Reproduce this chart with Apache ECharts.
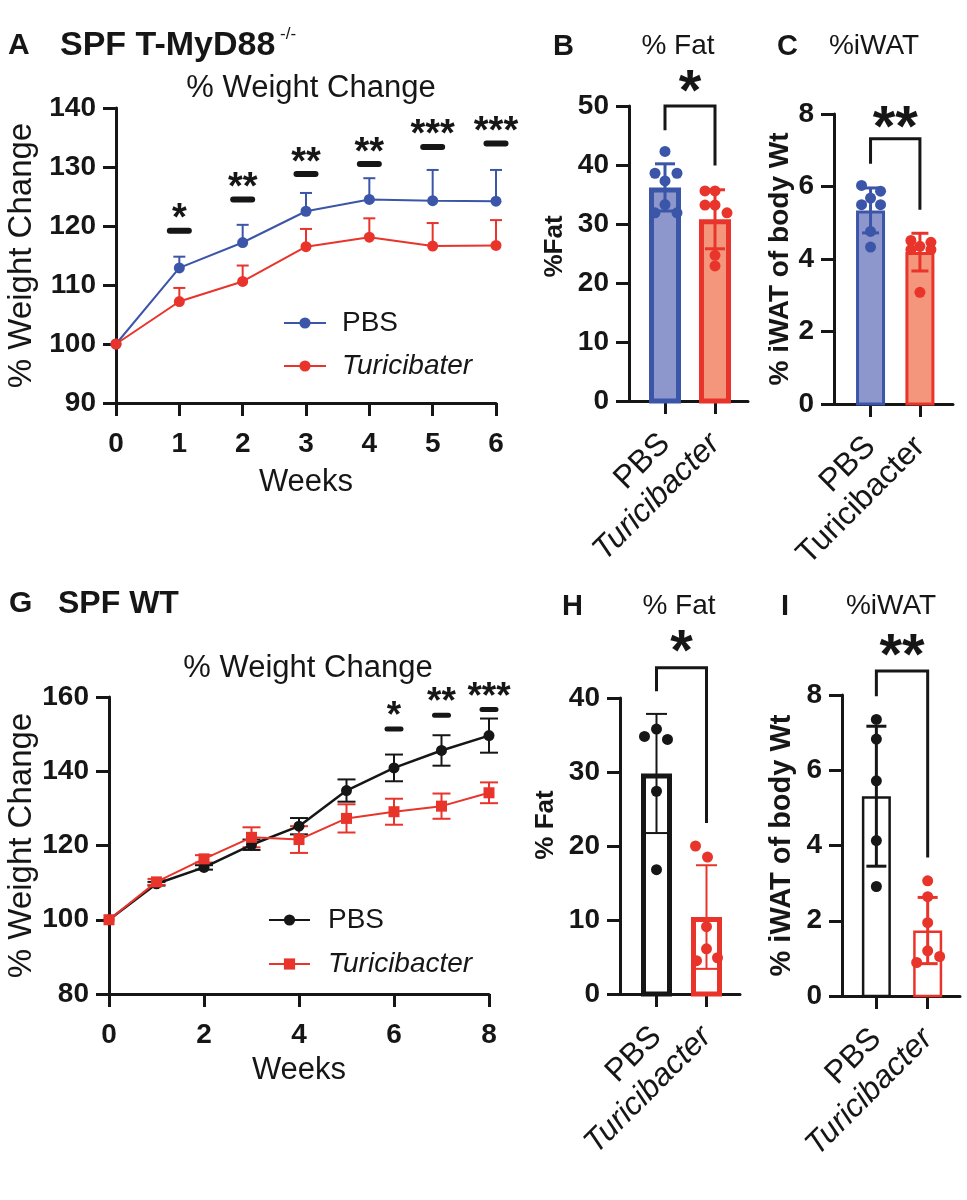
<html>
<head>
<meta charset="utf-8">
<script src="https://cdn.jsdelivr.net/npm/echarts@6/dist/echarts.min.js"></script>
<style>
html, body { margin: 0; padding: 0; background: #fff; }
#main { width: 967px; height: 1200px; }
</style>
</head>
<body>
<div id="main"></div>
<script>

// ---------- data: panel A (SPF T-MyD88-/-) ----------
var weeksA = [0, 1, 2, 3, 4, 5, 6];
var pbsA = [100, 112.9, 117.2, 122.5, 124.5, 124.3, 124.2];
var pbsA_sd = [0, 1.9, 3.0, 3.1, 3.6, 5.2, 5.3];
var turA = [100, 107.2, 110.6, 116.5, 118.1, 116.6, 116.7];
var turA_sd = [0, 2.3, 2.7, 3.0, 3.2, 3.9, 4.3];
var sigA_weeks = [1, 2, 3, 4, 5, 6];
var sigA_level = [119.2, 124.5, 128.8, 130.5, 133.4, 134.0];
var sigA_stars = ['*', '**', '**', '**', '***', '***'];

// ---------- data: panel G (SPF WT) ----------
var weeksG = [0, 1, 2, 3, 4, 5, 6, 7, 8];
var pbsG = [100, 109.7, 114.1, 120.2, 125.2, 134.8, 140.9, 145.6, 149.6];
var pbsG_sd = [0, 0.5, 0.6, 1.4, 2.2, 3.0, 3.6, 4.1, 4.6];
var turG = [100, 110.2, 116.4, 122.2, 121.6, 127.3, 129.1, 130.6, 134.2];
var turG_sd = [0, 0.8, 1.0, 2.7, 3.6, 3.8, 3.5, 3.4, 2.8];
var sigG_weeks = [6, 7, 8];
var sigG_level = [151.4, 155.1, 156.6];
var sigG_stars = ['*', '**', '***'];

// ---------- data: bar panels ----------
var groups = ['PBS', 'Turicibacter'];

var fatB_pbs = [42.3, 38.6, 38.6, 37.3, 33.3, 31.9, 31.9];
var fatB_tur = [35.6, 35.6, 33.2, 33.2, 31.9, 24.7, 22.9];
var fatB_mean = [36.2, 30.8];
var fatB_sd = [4.0, 5.0];
var fatB_bracket = [50, 45.9, 39.9];   // top, left leg end, right leg end

var iwatC_pbs = [6.03, 5.87, 5.68, 5.50, 5.50, 4.76, 4.33];
var iwatC_tur = [4.51, 4.46, 4.35, 4.26, 4.26, 3.08];
var iwatC_mean = [5.34, 4.19];
var iwatC_sd = [0.62, 0.52];
var iwatC_bracket = [7.32, 6.63, 5.36];

var fatH_pbs = [34.8, 35.8, 34.4, 27.4, 16.8];
var fatH_tur = [20.0, 18.5, 9.1, 6.1, 4.5, 4.9];
var fatH_mean = [29.8, 10.4];
var fatH_sd = [8.05, 7.0];
var fatH_bracket = [44.1, 40.9, 23.1];

var iwatI_pbs = [7.35, 6.83, 5.72, 4.13, 2.91];
var iwatI_tur = [3.06, 2.64, 1.95, 1.20, 1.05, 0.89];
var iwatI_mean = [5.31, 1.74];
var iwatI_sd = [1.86, 0.88];
var iwatI_bracket = [8.64, 7.97, 3.68];

// horizontal scatter of the dots (px), layout only
var jitB = [[0, -10, 12, 0, 0, -10, 12], [-10, 0, -10, 0, 12, 0, 0]];
var jitC = [[-9, 10, 0, -9, 10, 0, 0], [-9, 11, 0, -9, 11, 0]];
var jitH = [[-12, 0, 11, 0, 0], [-11, 1, 0, 0, -10, 11]];
var jitI = [[0, 0, 0, 0, 0], [0, 0, 0, 0, 12, -11]];

// ---------- styles ----------
var FONT = 'Liberation Sans, Arial, Helvetica, sans-serif';
var INK = '#161616';
var BLUE = '#3b55a8';
var BLUE_FILL = '#8e97cc';
var RED = '#e8342a';
var RED_FILL = '#f4967b';

function pairs(xs, ys) {
    return xs.map(function (x, i) { return [x, ys[i]]; });
}

function lineXAxis(grid, max, interval, gap) {
    return {
        type: 'value', gridIndex: grid, min: 0, max: max, interval: interval,
        name: 'Weeks', nameLocation: 'middle', nameGap: gap,
        nameTextStyle: { fontFamily: FONT, fontSize: 31, color: INK },
        axisLine: { onZero: false, lineStyle: { color: INK, width: 3 } },
        axisTick: { length: 13, lineStyle: { color: INK, width: 3 } },
        axisLabel: { margin: 27, fontFamily: FONT, fontSize: 28, fontWeight: 'bold', color: INK },
        splitLine: { show: false }
    };
}

function valueYAxis(grid, min, max, interval, name, gap, bold, size, pad) {
    return {
        type: 'value', gridIndex: grid, min: min, max: max, interval: interval,
        name: name, nameLocation: 'middle', nameGap: gap,
        nameTextStyle: {
            fontFamily: FONT, fontSize: size, color: INK,
            fontWeight: bold ? 'bold' : 'normal',
            padding: pad || 0
        },
        axisLine: { show: true, onZero: false, lineStyle: { color: INK, width: 3 } },
        axisTick: { show: true, length: 13, lineStyle: { color: INK, width: 3 } },
        axisLabel: { margin: 20, fontFamily: FONT, fontSize: 28, fontWeight: 'bold', color: INK },
        splitLine: { show: false }
    };
}

function barXAxis(grid, min, max, italic) {
    return {
        type: 'value', gridIndex: grid, min: min, max: max,
        axisLine: { onZero: false, lineStyle: { color: INK, width: 3 } },
        axisTick: { customValues: [0, 1], length: 13, lineStyle: { color: INK, width: 3 } },
        axisLabel: {
            customValues: [0, 1], rotate: 45, margin: 38,
            formatter: function (v) {
                return v === 0 ? '{n|' + groups[0] + '}' : (italic ? '{i|' : '{n|') + groups[1] + '}';
            },
            rich: {
                n: { fontFamily: FONT, fontSize: 32, color: INK },
                i: { fontFamily: FONT, fontSize: 32, color: INK, fontStyle: 'italic' }
            }
        },
        splitLine: { show: false }
    };
}

function errorSeries(axis, xs, means, sds, color, capW, both) {
    return {
        type: 'custom', xAxisIndex: axis, yAxisIndex: axis, silent: true, z: 3,
        data: xs.map(function (x, i) { return [x, means[i], sds[i]]; }),
        renderItem: function (params, api) {
            var x = api.value(0), m = api.value(1), s = api.value(2);
            if (!s) { return null; }
            var hi = api.coord([x, m + s]);
            var lo = api.coord([x, both ? m - s : m]);
            var st = { stroke: color, lineWidth: 2 };
            var kids = [
                { type: 'line', shape: { x1: hi[0], y1: hi[1], x2: lo[0], y2: lo[1] }, style: st },
                { type: 'line', shape: { x1: hi[0] - capW / 2, y1: hi[1], x2: hi[0] + capW / 2, y2: hi[1] }, style: st }
            ];
            if (both) {
                kids.push({ type: 'line', shape: { x1: lo[0] - capW / 2, y1: lo[1], x2: lo[0] + capW / 2, y2: lo[1] }, style: st });
            }
            return { type: 'group', children: kids };
        }
    };
}

function sigDashSeries(axis, weeks, levels, stars, dashW, thick, starSize, starLift) {
    return {
        type: 'custom', xAxisIndex: axis, yAxisIndex: axis, silent: true, z: 4,
        data: pairs(weeks, levels),
        renderItem: function (params, api) {
            var p = api.coord([api.value(0), api.value(1)]);
            return {
                type: 'group', children: [
                    { type: 'line', shape: { x1: p[0] - dashW / 2, y1: p[1], x2: p[0] + dashW / 2, y2: p[1] },
                      style: { stroke: INK, lineWidth: thick, lineCap: 'round' } },
                    { type: 'text', style: { text: stars[params.dataIndex], x: p[0], y: p[1] - starLift,
                      align: 'center', verticalAlign: 'middle',
                      font: 'bold ' + starSize + 'px ' + FONT, fill: INK } }
                ]
            };
        }
    };
}

function lineSeries(axis, name, xs, ys, color, symbol, width) {
    return {
        type: 'line', name: name, xAxisIndex: axis, yAxisIndex: axis, z: 5,
        data: pairs(xs, ys), symbol: symbol, symbolSize: 11, showSymbol: true,
        itemStyle: { color: color }, lineStyle: { color: color, width: width },
        animation: false
    };
}

// one bar panel: bars, SD, dots and the significance bracket
function barPanel(axis, pbs, tur, means, sds, jit, bracket, stars, cfg) {
    var out = [];
    out.push({
        type: 'custom', xAxisIndex: axis, yAxisIndex: axis, silent: true, z: 1,
        data: [[0, means[0]], [1, means[1]]],
        renderItem: function (params, api) {
            var i = params.dataIndex;
            var t = api.coord([api.value(0), api.value(1)]);
            var b = api.coord([api.value(0), 0]);
            var w = cfg.barW, bw = cfg.border[i];
            return {
                type: 'rect',
                shape: { x: t[0] - w / 2 + bw / 2, y: t[1] + bw / 2, width: w - bw, height: b[1] - t[1] - bw / 2 },
                style: { fill: cfg.fill[i], stroke: cfg.stroke[i], lineWidth: bw }
            };
        }
    });
    out.push({
        type: 'custom', xAxisIndex: axis, yAxisIndex: axis, silent: true, z: 2,
        data: [[0, means[0], sds[0]], [1, means[1], sds[1]]],
        renderItem: function (params, api) {
            var x = api.value(0), m = api.value(1), s = api.value(2);
            var hi = api.coord([x, m + s]), lo = api.coord([x, m - s]);
            var st = { stroke: cfg.stroke[params.dataIndex], lineWidth: cfg.sdW };
            var c = cfg.capW / 2;
            return {
                type: 'group', children: [
                    { type: 'line', shape: { x1: hi[0], y1: hi[1], x2: lo[0], y2: lo[1] }, style: st },
                    { type: 'line', shape: { x1: hi[0] - c, y1: hi[1], x2: hi[0] + c, y2: hi[1] }, style: st },
                    { type: 'line', shape: { x1: lo[0] - c, y1: lo[1], x2: lo[0] + c, y2: lo[1] }, style: st }
                ]
            };
        }
    });
    var dots = [], offs = [];
    pbs.forEach(function (v, k) { dots.push([0, v]); offs.push(jit[0][k]); });
    tur.forEach(function (v, k) { dots.push([1, v]); offs.push(jit[1][k]); });
    out.push({
        type: 'custom', xAxisIndex: axis, yAxisIndex: axis, silent: true, z: 3,
        data: dots,
        renderItem: function (params, api) {
            var g = api.value(0);
            var p = api.coord([g, api.value(1)]);
            return {
                type: 'circle',
                shape: { cx: p[0] + offs[params.dataIndex], cy: p[1], r: cfg.dotR },
                style: { fill: cfg.dot[g] }
            };
        }
    });
    out.push({
        type: 'custom', xAxisIndex: axis, yAxisIndex: axis, silent: true, z: 4,
        data: [bracket],
        renderItem: function (params, api) {
            var top = api.value(0);
            var a = api.coord([0, top]), a2 = api.coord([0, api.value(1)]);
            var b = api.coord([1, top]), b2 = api.coord([1, api.value(2)]);
            return {
                type: 'group', children: [
                    { type: 'polyline', shape: { points: [[a2[0], a2[1]], [a[0], a[1]], [b[0], b[1]], [b2[0], b2[1]]] },
                      style: { stroke: INK, lineWidth: 3, fill: null } },
                    { type: 'text', style: { text: stars, x: (a[0] + b[0]) / 2, y: a[1] - cfg.starLift,
                      align: 'center', verticalAlign: 'middle', font: 'bold 58px ' + FONT, fill: INK } }
                ]
            };
        }
    });
    return out;
}

function title(text, x, y, size, bold, center) {
    return {
        text: text, left: x, top: y, padding: 0,
        textAlign: center ? 'center' : 'left',
        textStyle: { fontFamily: FONT, fontSize: size, fontWeight: bold ? 'bold' : 'normal', color: INK }
    };
}

function legendRich(gap) {
    return {
        n: { fontFamily: FONT, fontSize: 28, color: INK, padding: [0, 0, 0, gap] },
        i: { fontFamily: FONT, fontSize: 28, color: INK, fontStyle: 'italic', padding: [0, 0, 0, gap] }
    };
}
function legendLabel(name) {
    var label = name.split('|')[0];
    return label === 'PBS' ? '{n|' + label + '}' : '{i|' + label + '}';
}

var blueSet = { fill: [BLUE_FILL, RED_FILL], stroke: [BLUE, RED], dot: [BLUE, RED] };
var whiteSet = { fill: ['#fff', '#fff'], stroke: [INK, RED], dot: [INK, RED] };

function merge(a, b) {
    var o = {};
    for (var k in a) { o[k] = a[k]; }
    for (var k2 in b) { o[k2] = b[k2]; }
    return o;
}

var series = [].concat(
    [errorSeries(0, weeksA, pbsA, pbsA_sd, BLUE, 12, false),
     errorSeries(0, weeksA, turA, turA_sd, RED, 12, false),
     lineSeries(0, 'PBS|A', weeksA, pbsA, BLUE, 'circle', 2),
     lineSeries(0, 'Turicibater|A', weeksA, turA, RED, 'circle', 2),
     sigDashSeries(0, sigA_weeks, sigA_level, sigA_stars, 19, 6, 38, 11)],
    barPanel(1, fatB_pbs, fatB_tur, fatB_mean, fatB_sd, jitB, fatB_bracket, '*',
        merge(blueSet, { barW: 32, border: [5, 5], sdW: 3, capW: 20, dotR: 5.5, starLift: 12 })),
    barPanel(2, iwatC_pbs, iwatC_tur, iwatC_mean, iwatC_sd, jitC, iwatC_bracket, '**',
        merge(blueSet, { barW: 29, border: [3, 3], sdW: 3, capW: 17, dotR: 5.5, starLift: 9 })),
    [errorSeries(3, weeksG, pbsG, pbsG_sd, INK, 18, true),
     errorSeries(3, weeksG, turG, turG_sd, RED, 18, true),
     lineSeries(3, 'PBS|G', weeksG, pbsG, INK, 'circle', 2.5),
     lineSeries(3, 'Turicibacter|G', weeksG, turG, RED, 'rect', 2),
     sigDashSeries(3, sigG_weeks, sigG_level, sigG_stars, 14, 5, 37, 12)],
    barPanel(4, fatH_pbs, fatH_tur, fatH_mean, fatH_sd, jitH, fatH_bracket, '*',
        merge(whiteSet, { barW: 31, border: [5, 5], sdW: 2, capW: 21, dotR: 5.5, starLift: 14 })),
    barPanel(5, iwatI_pbs, iwatI_tur, iwatI_mean, iwatI_sd, jitI, iwatI_bracket, '**',
        merge(whiteSet, { barW: 29, border: [2.5, 2.5], sdW: 3, capW: 20, dotR: 5.5, starLift: 13 }))
);

var option = {
    backgroundColor: '#fff',
    animation: false,
    title: [
        title('A', 8, 31, 30, true),
        title('SPF T-MyD88', 60, 29, 34, true),
        title('-/-', 280, 26, 17, false),
        title('% Weight Change', 311, 73, 31, false, true),
        title('B', 553, 32, 29, true),
        title('% Fat', 678, 32, 28, false, true),
        title('C', 777, 32, 29, true),
        title('%iWAT', 874, 32, 28, false, true),
        title('G', 9, 589, 30, true),
        title('SPF WT', 58, 588, 32, true),
        title('% Weight Change', 308, 653, 31, false, true),
        title('H', 562, 592, 29, true),
        title('% Fat', 679, 592, 28, false, true),
        title('I', 781, 592, 29, true),
        title('%iWAT', 891, 592, 28, false, true)
    ],
    legend: [
        {
            data: ['PBS|A', 'Turicibater|A'], orient: 'vertical', left: 278, top: 304,
            itemWidth: 42, itemHeight: 14, itemGap: 15, selectedMode: false,
            formatter: legendLabel, textStyle: { rich: legendRich(11) }
        },
        {
            data: ['PBS|G', 'Turicibacter|G'], orient: 'vertical', left: 263, top: 901,
            itemWidth: 41, itemHeight: 14, itemGap: 16, selectedMode: false,
            formatter: legendLabel, textStyle: { rich: legendRich(13) }
        }
    ],
    grid: [
        { left: 116, top: 108, width: 380, height: 295 },
        { left: 629, top: 106, width: 119, height: 295 },
        { left: 834, top: 114, width: 119, height: 290 },
        { left: 109, top: 697, width: 380, height: 297 },
        { left: 620, top: 698, width: 120, height: 296 },
        { left: 842, top: 695, width: 118, height: 301 }
    ],
    xAxis: [
        lineXAxis(0, 6, 1, 64),
        barXAxis(1, -0.72, 1.66, true),
        barXAxis(2, -0.74, 1.67, false),
        lineXAxis(3, 8, 2, 61),
        barXAxis(4, -0.73, 1.67, true),
        barXAxis(5, -0.67, 1.63, true)
    ],
    yAxis: [
        valueYAxis(0, 90, 140, 10, '% Weight Change', 78, false, 33),
        valueYAxis(1, 0, 50, 10, '%Fat', 61, true, 26, [0, 0, 0, 14]),
        valueYAxis(2, 0, 8, 2, '% iWAT of body Wt', 40, true, 28),
        valueYAxis(3, 80, 160, 20, '% Weight Change', 71, false, 33),
        valueYAxis(4, 0, 40, 10, '% Fat', 61, true, 26, [0, 0, 0, 42]),
        valueYAxis(5, 0, 8, 2, '% iWAT of body Wt', 46, true, 29)
    ],
    series: series
};

var myChart = echarts.init(document.getElementById('main'));
myChart.setOption(option);

</script>
</body>
</html>
